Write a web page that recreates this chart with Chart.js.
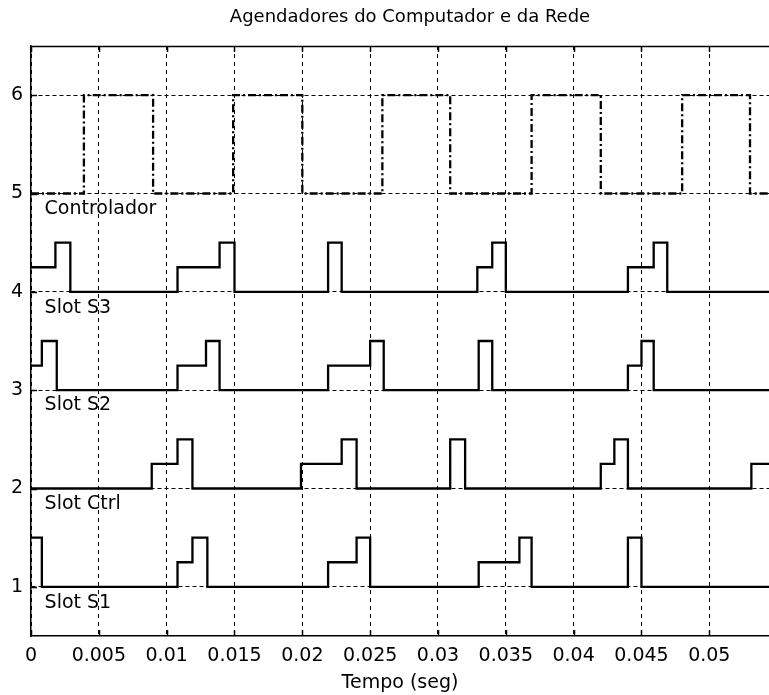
<!DOCTYPE html>
<html>
<head>
<meta charset="utf-8">
<script src="https://cdn.jsdelivr.net/npm/chart.js@4/dist/chart.umd.min.js"></script>
<style>
  body { margin: 0; background: #fff; }
  #wrap { width: 769px; height: 695px; }
</style>
</head>
<body>
<div id="wrap"><canvas id="myChart"></canvas></div>
<script>
// axis ticks
var xTicks = [0, 0.005, 0.01, 0.015, 0.02, 0.025, 0.03, 0.035, 0.04, 0.045, 0.05];
var yTicks = [1, 2, 3, 4, 5, 6];
var xMax = 0.0544;

// each signal: change times and the level held from that time on
var ctrlT = [0, 0.0039, 0.009, 0.0149, 0.020, 0.0259, 0.0309, 0.0369, 0.042, 0.048, 0.053, xMax];
var ctrlV = [5, 6, 5, 6, 5, 6, 5, 6, 5, 6, 5, 5];

var s3T = [0, 0.0018, 0.0029, 0.0108, 0.0139, 0.015, 0.0219, 0.0229, 0.0329, 0.034, 0.035, 0.044, 0.0459, 0.0469, xMax];
var s3V = [4.25, 4.5, 4, 4.25, 4.5, 4, 4.5, 4, 4.25, 4.5, 4, 4.25, 4.5, 4, 4];

var s2T = [0, 0.0008, 0.0019, 0.0108, 0.0129, 0.0139, 0.0219, 0.025, 0.026, 0.033, 0.034, 0.044, 0.045, 0.0459, xMax];
var s2V = [3.25, 3.5, 3, 3.25, 3.5, 3, 3.25, 3.5, 3, 3.5, 3, 3.25, 3.5, 3, 3];

var slotCtrlT = [0, 0.0089, 0.0108, 0.0119, 0.0199, 0.0229, 0.024, 0.0309, 0.032, 0.042, 0.043, 0.044, 0.0531, xMax];
var slotCtrlV = [2, 2.25, 2.5, 2, 2.25, 2.5, 2, 2.5, 2, 2.25, 2.5, 2, 2.25, 2.25];

var s1T = [0, 0.0008, 0.0108, 0.0119, 0.013, 0.0219, 0.024, 0.025, 0.033, 0.036, 0.0369, 0.044, 0.045, xMax];
var s1V = [1.5, 1, 1.25, 1.5, 1, 1.25, 1.5, 1, 1.25, 1.5, 1, 1.5, 1, 1];

// text labels inside the plot
var labelNames = ["Controlador", "Slot S3", "Slot S2", "Slot Ctrl", "Slot S1"];
var labelX = [0.001, 0.001, 0.001, 0.001, 0.001];
var labelY = [4.84, 3.83, 2.85, 1.84, 0.84];

var titleText = "Agendadores do Computador e da Rede";

function pts(t, v) {
    var out = [];
    for (var i = 0; i < t.length; i++) {
        out.push({x: t[i], y: v[i]});
    }
    return out;
}

function stepSet(t, v, dash) {
    return {
        data: pts(t, v),
        borderColor: "#000",
        borderWidth: 2.3,
        borderDash: dash,
        pointRadius: 0,
        stepped: "before",
        fill: false
    };
}

var extras = {
    id: "extras",
    afterDatasetsDraw: function(chart) {
        var ctx = chart.ctx;
        var a = chart.chartArea;
        var xs = chart.scales.x, ys = chart.scales.y;
        ctx.save();
        ctx.strokeStyle = "#000";
        ctx.lineWidth = 1.5;
        ctx.setLineDash([]);
        // box (top edge) and inward tick marks
        ctx.beginPath();
        ctx.moveTo(a.left, a.top + 0.5);
        ctx.lineTo(a.right, a.top + 0.5);
        for (var i = 0; i < xTicks.length; i++) {
            var px = Math.round(xs.getPixelForValue(xTicks[i])) + 0.5;
            ctx.moveTo(px, a.top);
            ctx.lineTo(px, a.top + 6);
            ctx.moveTo(px, a.bottom);
            ctx.lineTo(px, a.bottom - 6);
        }
        for (var j = 0; j < yTicks.length; j++) {
            var py = Math.round(ys.getPixelForValue(yTicks[j])) + 0.5;
            ctx.moveTo(a.left, py);
            ctx.lineTo(a.left + 6, py);
        }
        ctx.stroke();
        ctx.fillStyle = "#000";
        // title, centred over the full axes (which run on past the right edge)
        ctx.font = "18px 'DejaVu Sans'";
        ctx.textAlign = "center";
        ctx.textBaseline = "middle";
        ctx.fillText(titleText, 410, 17);
        // signal names
        ctx.font = "19px 'DejaVu Sans'";
        ctx.textAlign = "left";
        for (var k = 0; k < labelNames.length; k++) {
            ctx.fillText(labelNames[k], xs.getPixelForValue(labelX[k]), ys.getPixelForValue(labelY[k]));
        }
        ctx.restore();
    }
};

Chart.defaults.font.family = "'DejaVu Sans'";
Chart.defaults.color = "#000";

var ctx = document.getElementById("myChart").getContext("2d");
var myChart = new Chart(ctx, {
    type: "line",
    data: {
        datasets: [
            stepSet(ctrlT, ctrlV, [8, 3, 2, 3]),
            stepSet(s3T, s3V, []),
            stepSet(s2T, s2V, []),
            stepSet(slotCtrlT, slotCtrlV, []),
            stepSet(s1T, s1V, [])
        ]
    },
    plugins: [extras],
    options: {
        responsive: true,
        maintainAspectRatio: false,
        animation: false,
        layout: { padding: { left: 0, right: 0, top: 46, bottom: 0 } },
        plugins: {
            legend: { display: false },
            tooltip: { enabled: false },
            title: { display: false }
        },
        scales: {
            x: {
                type: "linear",
                min: 0,
                max: xMax,
                afterBuildTicks: function(scale) {
                    scale.ticks = xTicks.map(function(v) { return {value: v}; });
                },
                afterFit: function(scale) { scale.height = 59; },
                ticks: {
                    font: { size: 19 },
                    padding: 9,
                    maxRotation: 0,
                    autoSkip: false,
                    callback: function(v) { return String(v); }
                },
                grid: {
                    color: "#000",
                    lineWidth: 1,
                    drawTicks: false
                },
                border: { display: true, color: "#000", width: 1.5, dash: [4, 4] },
                title: {
                    display: true,
                    text: "Tempo (seg)",
                    font: { size: 19 },
                    padding: { top: 0, bottom: 1 }
                }
            },
            y: {
                min: 0.5,
                max: 6.5,
                afterBuildTicks: function(scale) {
                    scale.ticks = yTicks.map(function(v) { return {value: v}; });
                },
                afterFit: function(scale) { scale.width = 31; },
                ticks: {
                    font: { size: 19 },
                    padding: 8
                },
                grid: {
                    color: "#000",
                    lineWidth: 1,
                    drawTicks: false
                },
                border: { display: true, color: "#000", width: 1.5, dash: [4, 3] }
            }
        }
    }
});
</script>
</body>
</html>
